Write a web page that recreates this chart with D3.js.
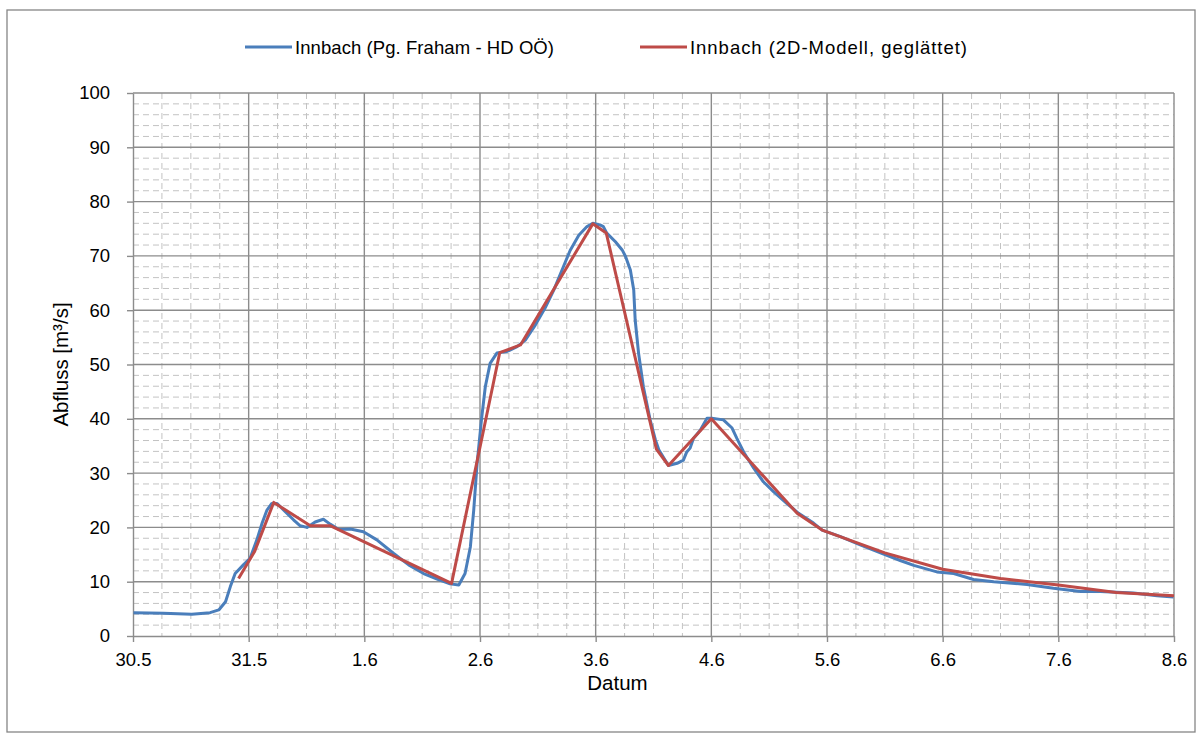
<!DOCTYPE html>
<meta charset="utf-8">
<title>Innbach Abfluss</title>
<style>
  html, body { margin: 0; background: #fff; }
  svg { display: block; font-family: 'Liberation Sans', Arial, sans-serif; }
  .frame { fill: #fff; stroke: #868686; stroke-width: 1.3px; }
  .minor line { stroke: #c3c3c3; stroke-width: 1px; stroke-dasharray: 6 4; }
  .major line { stroke: #8c8c8c; stroke-width: 1.4px; }
  .axis path, .axis line { stroke: #8c8c8c; stroke-width: 1.4px; }
  .axis text { font-size: 18.5px; fill: #000; }
  .series { fill: none; stroke-width: 3px; stroke-linejoin: round; }
  .title { font-size: 20.5px; fill: #000; }
  .legend text { font-size: 18.5px; fill: #000; dominant-baseline: central; }
</style>
<svg width="1202" height="740"></svg>
<script src="https://cdn.jsdelivr.net/npm/d3@7"></script>
<script>
  /* global d3 */
  'use strict'

  // time in hours since 30.5 00:00, discharge in m³/s
  const gaugeHours = [0.1, 6.3, 12.2, 16.0, 17.8, 19.2, 20.2, 21.2, 22.9, 24.3,
    25.7, 26.8, 27.8, 28.8, 29.9, 31.6, 33.3, 34.7, 36.1, 37.8, 39.5, 40.9,
    42.7, 45.1, 47.8, 50.6, 54.1, 57.2, 60.3, 63.1, 65.8, 67.6, 68.9, 70.0,
    70.7, 71.4, 72.3, 73.1, 74.1, 75.5, 77.6, 79.7, 81.4, 83.5, 85.5, 87.3,
    89.3, 90.7, 92.5, 94.2, 95.4, 96.9, 97.6, 98.3, 100.1, 101.5, 102.2, 103.2,
    103.9, 104.2, 104.9, 105.9, 107.3, 108.4, 109.1, 111.1, 112.9, 114.2,
    114.9, 115.6, 116.3, 117.7, 119.1, 120.1, 122.5, 124.3, 125.3, 126.7,
    128.8, 130.8, 132.9, 135.7, 138.1, 141.2, 143.0, 146.8, 150.9, 155.1,
    159.2, 162.0, 166.8, 170.3, 174.4, 178.6, 185.5, 191.0, 196.6, 200.7,
    207.6, 212.5, 215.9]
  const gaugeFlow = [4.3, 4.2, 4.0, 4.3, 4.8, 6.3, 9.1, 11.5, 13.1, 14.3,
    17.7, 20.8, 23.2, 24.4, 24.4, 22.9, 21.4, 20.3, 20.0, 21.0, 21.5, 20.6,
    19.6, 19.7, 19.2, 17.7, 15.2, 13.1, 11.5, 10.5, 9.6, 9.4, 11.5, 16.4,
    23.2, 31.8, 39.8, 45.9, 50.2, 52.1, 52.4, 53.3, 54.5, 57.3, 60.4, 63.7,
    68.0, 71.0, 73.8, 75.4, 76.0, 75.7, 75.4, 74.2, 72.6, 71.1, 69.9, 67.4,
    63.7, 58.2, 52.1, 45.9, 39.8, 36.1, 34.3, 31.4, 31.8, 32.4,
    33.9, 34.6, 36.4, 37.9, 40.1, 40.1, 39.8, 38.3, 36.4, 33.9,
    30.9, 28.4, 26.6, 24.4, 22.6, 20.8, 19.5, 18.3, 16.8, 15.3,
    13.9, 13.0, 11.8, 11.5, 10.4, 10.0, 9.5, 8.8, 8.2, 8.2,
    7.9, 7.4, 7.2]

  const modelHours = [21.9, 25.2, 29.2, 36.8, 41.0, 66.1, 76.1, 80.4, 95.4,
    98.2, 108.6, 111.1, 120.0, 137.8, 143.0, 156.0, 168.0, 180.0, 192.0,
    204.0, 216.0]
  const modelFlow = [10.6, 15.5, 24.6, 20.3, 20.3, 9.7, 52.2, 53.6, 75.9,
    74.2, 34.4, 31.4, 40.0, 22.6, 19.5, 15.3, 12.3, 10.6, 9.4, 8.0, 7.4]

  const dayLabels = ['30.5', '31.5', '1.6', '2.6', '3.6', '4.6', '5.6', '6.6', '7.6', '8.6']
  const flowTicks = [0, 10, 20, 30, 40, 50, 60, 70, 80, 90, 100]
  const seriesNames = ['Innbach (Pg. Fraham - HD OÖ)', 'Innbach (2D-Modell, geglättet)']
  const seriesColors = ['#4a7ebb', '#be4b48']

  const svg = d3.select('svg')
  svg.append('rect').attr('class', 'frame')
    .attr('x', 7).attr('y', 10).attr('width', 1188).attr('height', 722)

  const plotL = 133, plotR = 1174, plotT = 93, plotB = 636
  const x = d3.scaleLinear().domain([0, 24 * (dayLabels.length - 1)]).range([plotL, plotR])
  const y = d3.scaleLinear().domain([0, 100]).range([plotB, plotT])

  // minor grid: every 6 h, every 2 m³/s
  const minor = svg.append('g').attr('class', 'minor')
  minor.selectAll('.v').data(d3.range(0, 217, 6).filter(h => h % 24))
    .enter().append('line')
    .attr('x1', d => x(d)).attr('x2', d => x(d)).attr('y1', plotT).attr('y2', plotB)
  minor.selectAll('.h').data(d3.range(0, 101, 2).filter(v => v % 10))
    .enter().append('line')
    .attr('x1', plotL).attr('x2', plotR).attr('y1', d => y(d)).attr('y2', d => y(d))

  // major grid
  const major = svg.append('g').attr('class', 'major')
  major.selectAll('.v').data(dayLabels.map((_, i) => i * 24).slice(1))
    .enter().append('line')
    .attr('x1', d => x(d)).attr('x2', d => x(d)).attr('y1', plotT).attr('y2', plotB)
  major.selectAll('.h').data(flowTicks.slice(1))
    .enter().append('line')
    .attr('x1', plotL).attr('x2', plotR).attr('y1', d => y(d)).attr('y2', d => y(d))

  // axes
  const xAxis = d3.axisBottom(x)
    .tickValues(dayLabels.map((_, i) => i * 24))
    .tickFormat((d, i) => dayLabels[i])
    .tickSize(6).tickSizeOuter(0).tickPadding(11)
  svg.append('g').attr('class', 'axis').attr('transform', `translate(0,${plotB})`).call(xAxis)

  const yAxis = d3.axisLeft(y).tickValues(flowTicks)
    .tickSize(6).tickSizeOuter(0).tickPadding(17)
  svg.append('g').attr('class', 'axis').attr('transform', `translate(${plotL},0)`).call(yAxis)

  svg.append('text').attr('class', 'title')
    .attr('x', (plotL + plotR) / 2 - 36).attr('y', 690).attr('text-anchor', 'middle')
    .text('Datum')
  svg.append('text').attr('class', 'title')
    .attr('transform', `translate(68,${(plotT + plotB) / 2}) rotate(-90)`)
    .attr('text-anchor', 'middle')
    .text('Abfluss [m³/s]')

  // series
  const line = d3.line().x(d => x(d[0])).y(d => y(d[1]))
  svg.append('path').attr('class', 'series')
    .attr('stroke', seriesColors[0])
    .attr('d', line(d3.zip(gaugeHours, gaugeFlow)))
  svg.append('path').attr('class', 'series')
    .attr('stroke', seriesColors[1])
    .attr('d', line(d3.zip(modelHours, modelFlow)))

  // legend, stretched to the widths of the original entries
  const legend = svg.append('g').attr('class', 'legend')
  const legendX = [245, 640]
  const legendTextWidth = [259, 277]
  seriesNames.forEach((name, i) => {
    const g = legend.append('g').attr('transform', `translate(${legendX[i]},47)`)
    g.append('line').attr('x1', 0).attr('x2', 47)
      .attr('stroke', seriesColors[i]).attr('stroke-width', 3)
    g.append('text').attr('x', 50)
      .attr('textLength', legendTextWidth[i]).attr('lengthAdjust', 'spacing')
      .text(name)
  })
</script>
